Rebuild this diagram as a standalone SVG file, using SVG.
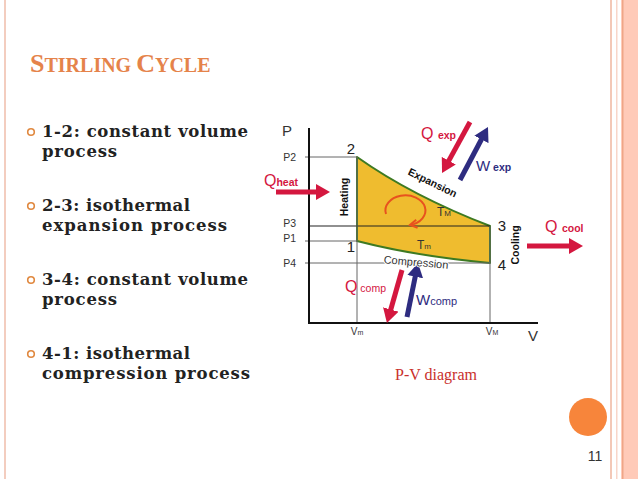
<svg xmlns="http://www.w3.org/2000/svg" width="638" height="479" viewBox="0 0 638 479">
<style>
.bt{font-family:"DejaVu Serif",serif;font-weight:bold;font-size:16.5px;fill:#222}
.ax{font-family:"Liberation Sans",Arial,sans-serif;fill:#333}
.num{font-family:"Liberation Sans",Arial,sans-serif;font-size:15px;fill:#222}
.lbl{font-family:"Liberation Sans",Arial,sans-serif;font-weight:bold;font-size:10.5px;fill:#111}
.qr{font-family:"Liberation Sans",Arial,sans-serif;fill:#D4173F}
.wb{font-family:"Liberation Sans",Arial,sans-serif;fill:#2E2C80}
.red{stroke:#D4173F;stroke-width:5;fill:none}
.blue{stroke:#2E2C80;stroke-width:5;fill:none}
.thin{stroke:#666;stroke-width:1;fill:none}
</style>
<defs>
<marker id="hr" markerUnits="userSpaceOnUse" viewBox="0 0 14 16" refX="1" refY="8" markerWidth="14" markerHeight="16" orient="auto"><path d="M0,0 L14,8 L0,16 z" fill="#D4173F"/></marker>
<marker id="hb" markerUnits="userSpaceOnUse" viewBox="0 0 14 16" refX="1" refY="8" markerWidth="14" markerHeight="16" orient="auto"><path d="M0,0 L14,8 L0,16 z" fill="#2E2C80"/></marker>
<marker id="ho" markerUnits="userSpaceOnUse" viewBox="0 0 10 10" refX="8" refY="5" markerWidth="10" markerHeight="10" orient="auto"><path d="M1,1 L8,5 L1,9" fill="none" stroke="#E8521E" stroke-width="2"/></marker>
</defs>
<rect width="638" height="479" fill="#fff"/>
<g id="frame">
<rect x="4" y="0" width="2" height="479" fill="#F3CDBF"/>
<rect x="610" y="0" width="2" height="479" fill="#F3C8B7"/>
<rect x="616" y="0" width="1.5" height="479" fill="#F8D6C9"/>
<rect x="621" y="0" width="17" height="479" fill="#FFCAB8"/>
<rect x="622" y="0" width="1.5" height="479" fill="#EFA687"/>
</g>
<g id="title">
<text x="30" y="72" font-family="Liberation Serif,serif" font-weight="bold" fill="#E5834A"><tspan font-size="26">S</tspan><tspan font-size="20">TIRLING </tspan><tspan font-size="26">C</tspan><tspan font-size="20">YCLE</tspan></text>
</g>
<g id="bullets">
<g fill="none" stroke="#E0883F" stroke-width="1.6">
<circle cx="31" cy="132" r="3.3"/>
<circle cx="31" cy="206" r="3.3"/>
<circle cx="31" cy="280" r="3.3"/>
<circle cx="31" cy="354" r="3.3"/>
</g>
<text class="bt" x="42" y="137" textLength="206" lengthAdjust="spacing">1-2: constant volume</text>
<text class="bt" x="42" y="157" textLength="75" lengthAdjust="spacing">process</text>
<text class="bt" x="42" y="211" textLength="148" lengthAdjust="spacing">2-3: isothermal</text>
<text class="bt" x="42" y="231" textLength="185" lengthAdjust="spacing">expansion process</text>
<text class="bt" x="42" y="285" textLength="206" lengthAdjust="spacing">3-4: constant volume</text>
<text class="bt" x="42" y="305" textLength="75" lengthAdjust="spacing">process</text>
<text class="bt" x="42" y="359" textLength="148" lengthAdjust="spacing">4-1: isothermal</text>
<text class="bt" x="42" y="379" textLength="208" lengthAdjust="spacing">compression process</text>
</g>
<g id="cycle">
<path d="M357,157 Q412,196 490,226 L490,263 Q415,256 357,241 Z" fill="#EFBC2F" stroke="#3E7A22" stroke-width="2" stroke-linejoin="round"/>
</g>
<g id="connectors">
<line class="thin" x1="305" y1="157" x2="357" y2="157"/>
<line class="thin" x1="305" y1="241" x2="357" y2="241"/>
<line x1="309" y1="226" x2="490" y2="226" stroke="#222" stroke-width="1.2"/>
<line class="thin" x1="305" y1="263" x2="490" y2="263"/>
<line class="thin" x1="357" y1="157" x2="357" y2="323"/>
<line class="thin" x1="490" y1="226" x2="490" y2="323"/>
<line x1="309" y1="128" x2="309" y2="324" stroke="#111" stroke-width="2"/>
<line x1="308" y1="323" x2="538" y2="323" stroke="#111" stroke-width="2"/>
<path d="M386,214 A20,15 0 1 1 410,225" fill="none" stroke="#E8521E" stroke-width="2" marker-end="url(#ho)"/>
<line class="red" x1="276" y1="192" x2="317" y2="192" marker-end="url(#hr)"/>
<line class="red" x1="470" y1="122" x2="448.3" y2="161.6" marker-end="url(#hr)"/>
<line class="blue" x1="460" y1="180" x2="481.9" y2="138.5" marker-end="url(#hb)"/>
<line class="red" x1="402" y1="270" x2="390.5" y2="310.5" marker-end="url(#hr)"/>
<line class="blue" x1="407" y1="317" x2="415.4" y2="275.7" marker-end="url(#hb)"/>
<line class="red" x1="527" y1="246" x2="570" y2="246" marker-end="url(#hr)"/>
</g>
<g id="labels">
<text class="ax" x="287" y="136" font-size="15" text-anchor="middle">P</text>
<text class="ax" x="533" y="341" font-size="15" text-anchor="middle">V</text>
<text class="ax" x="296" y="161" font-size="10.5" text-anchor="end">P2</text>
<text class="ax" x="296" y="227" font-size="10.5" text-anchor="end">P3</text>
<text class="ax" x="296" y="242" font-size="10.5" text-anchor="end">P1</text>
<text class="ax" x="296" y="267" font-size="10.5" text-anchor="end">P4</text>
<text class="ax" x="357" y="335" font-size="10" text-anchor="middle">V<tspan font-size="7">m</tspan></text>
<text class="ax" x="492" y="335" font-size="10" text-anchor="middle">V<tspan font-size="7">M</tspan></text>
<text class="num" x="351" y="154" text-anchor="middle">2</text>
<text class="num" x="502" y="231" text-anchor="middle">3</text>
<text class="num" x="351" y="252" text-anchor="middle">1</text>
<text class="num" x="502" y="270" text-anchor="middle">4</text>
<text class="lbl" transform="translate(348,197) rotate(-90)" text-anchor="middle">Heating</text>
<text class="lbl" transform="translate(519,245) rotate(-90)" text-anchor="middle">Cooling</text>
<text class="lbl" transform="translate(431,186) rotate(26)" text-anchor="middle">Expansion</text>
<text class="ax" x="416" y="266" font-size="11" fill="#111" text-anchor="middle" transform="rotate(5 416 263)" stroke="#fff" stroke-width="2" paint-order="stroke">Compression</text>
<text class="ax" x="437" y="216" font-size="12" fill="#222">T<tspan font-size="8">M</tspan></text>
<text class="ax" x="417" y="249" font-size="12" fill="#222">T<tspan font-size="8">m</tspan></text>
<text class="qr" x="264" y="186" font-size="16">Q<tspan font-size="10.5" font-weight="bold">heat</tspan></text>
<text class="qr" x="421" y="139" font-size="16">Q <tspan font-size="10.5" font-weight="bold">exp</tspan></text>
<text class="wb" x="476" y="171" font-size="15">W<tspan font-size="10.5" font-weight="bold"> exp</tspan></text>
<text class="qr" x="345" y="292" font-size="16">Q<tspan font-size="10.5"> comp</tspan></text>
<text class="wb" x="416" y="305" font-size="15">W<tspan font-size="11">comp</tspan></text>
<text class="qr" x="545" y="232" font-size="16">Q <tspan font-size="10.5" font-weight="bold">cool</tspan></text>
</g>
<g id="caption">
<text x="436" y="380" font-family="Liberation Serif,serif" font-size="16" fill="#C9302C" text-anchor="middle">P-V diagram</text>
</g>
<g id="footer">
<circle cx="588" cy="417" r="19" fill="#F7853B"/>
<text x="595" y="461" font-family="Liberation Sans,Arial,sans-serif" font-size="14" fill="#333" text-anchor="middle">11</text>
</g>
</svg>
